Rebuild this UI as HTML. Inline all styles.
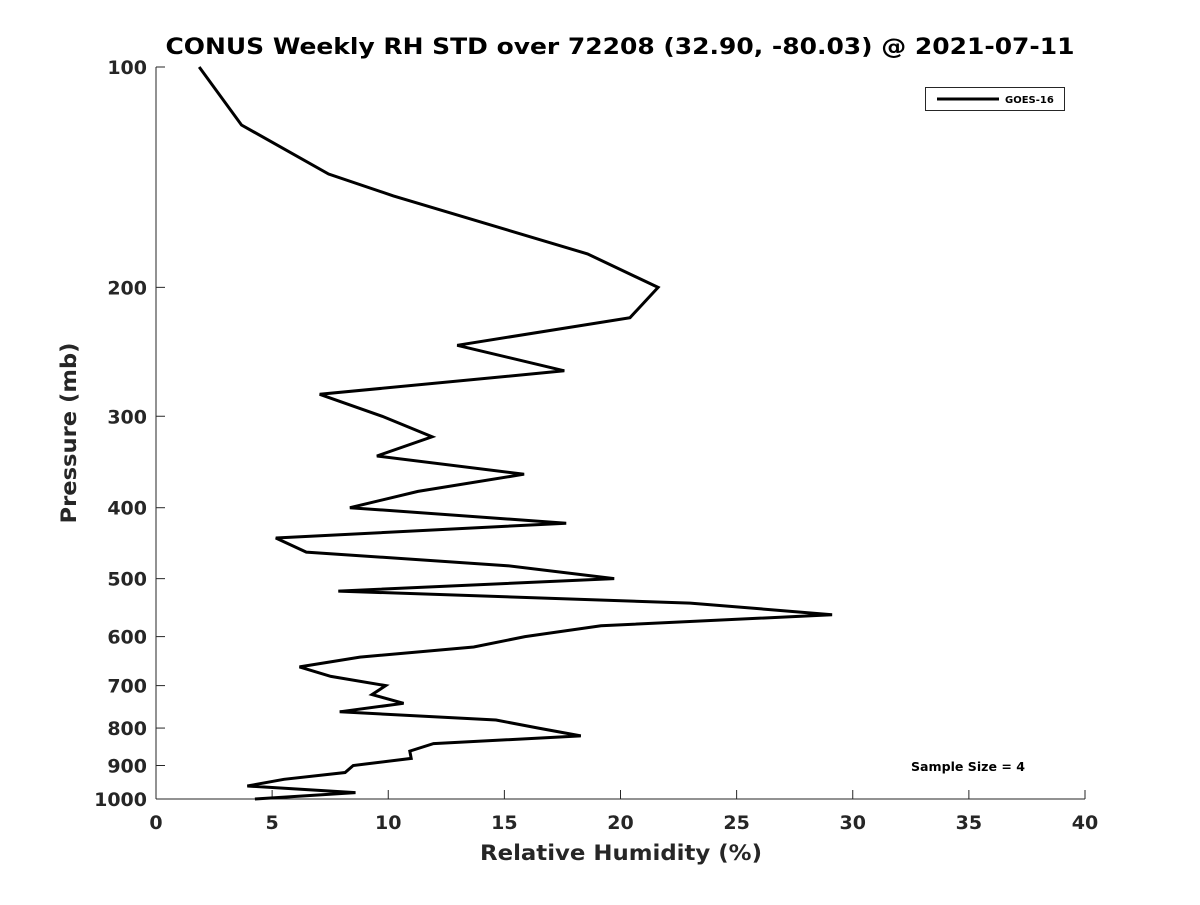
<!DOCTYPE html>
<html><head><meta charset="utf-8"><style>
body{margin:0;background:#fff}
svg text{font-family:"DejaVu Sans","Liberation Sans",sans-serif;font-weight:bold;fill:#262626}
</style></head><body>
<svg id="c" width="1200" height="900">
<text x="620" y="54" text-anchor="middle" font-size="22" textLength="909" lengthAdjust="spacingAndGlyphs" style="fill:#000">CONUS Weekly RH STD over 72208 (32.90, -80.03) @ 2021-07-11</text>
<g id="axes"></g>
<polyline id="line" fill="none" stroke="#000" stroke-width="3" stroke-linejoin="miter"/>
<g>
<rect x="925.5" y="87.5" width="139" height="23" fill="#fff" stroke="#262626" stroke-width="1"/>
<line x1="937" y1="99" x2="999" y2="99" stroke="#000" stroke-width="3"/>
<text x="1005" y="103" font-size="10" style="fill:#000">GOES-16</text>
</g>
<text x="911" y="771" font-size="12" textLength="114" lengthAdjust="spacingAndGlyphs" style="fill:#000">Sample Size = 4</text>
<text x="621" y="860" text-anchor="middle" font-size="21" textLength="282" lengthAdjust="spacingAndGlyphs">Relative Humidity (%)</text>
<text transform="translate(76,433) rotate(-90)" text-anchor="middle" font-size="21" textLength="181" lengthAdjust="spacingAndGlyphs">Pressure (mb)</text>
</svg>
<script>
const pressures=[100,120,140,150,180,200,220,240,260,280,300,320,340,360,380,400,420,440,460,480,500,520,540,560,580,600,620,640,660,680,700,720,740,760,780,800,820,840,860,880,900,920,940,960,980,1000];
const rhValues=[1.86,3.68,7.43,10.22,18.58,21.62,20.41,12.97,17.58,7.05,9.74,11.89,9.51,15.85,11.28,8.35,17.66,5.16,6.47,15.12,19.73,7.85,23.0,29.11,19.16,15.89,13.68,8.78,6.18,7.53,9.89,9.3,10.66,7.91,14.64,16.47,18.29,11.95,10.93,10.99,8.49,8.14,5.51,3.93,8.59,4.26];
const xTicks=[0,5,10,15,20,25,30,35,40];
const yTicks=[100,200,300,400,500,600,700,800,900,1000];
const X0=156,X1=1085,Y0=67,Y1=799;
const xs=v=>X0+(v-0)/(40-0)*(X1-X0);
const ys=p=>Y0+(Math.log10(p)-2)/(3-2)*(Y1-Y0);
const NS="http://www.w3.org/2000/svg";
const ax=document.getElementById('axes');
function mk(t,a){const e=document.createElementNS(NS,t);for(const k in a)e.setAttribute(k,a[k]);ax.appendChild(e);return e;}
let e=mk('line',{x1:X0,y1:Y0,x2:X0,y2:Y1,stroke:'#262626','stroke-width':1});


e=mk('line',{x1:X0,y1:Y1,x2:X1,y2:Y1,stroke:'#262626','stroke-width':1});


xTicks.forEach(v=>{
 const x=xs(v);
 mk('line',{x1:x,y1:Y1,x2:x,y2:Y1-9,stroke:'#262626'});
 const t=mk('text',{x:x,y:Y1+30,'text-anchor':'middle','font-size':19});
 t.textContent=v;
 
 
});
yTicks.forEach(v=>{
 const y=ys(v);
 mk('line',{x1:X0,y1:y,x2:X0+9,y2:y,stroke:'#262626'});
 const t=mk('text',{x:X0-9,y:y+7,'text-anchor':'end','font-size':19});
 t.textContent=v;
 
 
});
document.getElementById('line').setAttribute('points',pressures.map((p,i)=>xs(rhValues[i]).toFixed(1)+','+ys(p).toFixed(1)).join(' '));
</script>
</body></html>
